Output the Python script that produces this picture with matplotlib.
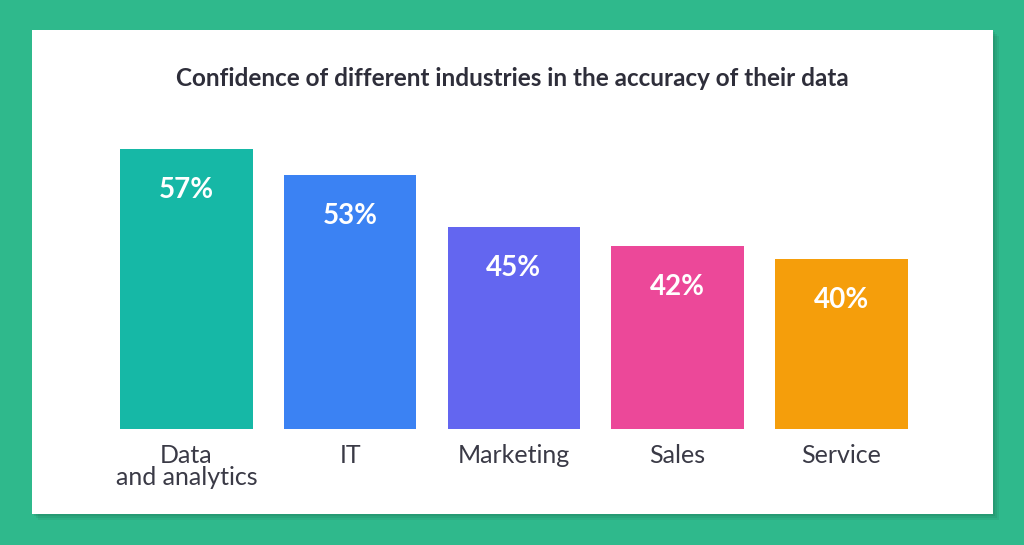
import matplotlib.pyplot as plt
from matplotlib.patches import Rectangle

# chart data
industries = ['Data\nand analytics', 'IT', 'Marketing', 'Sales', 'Service']
confidence = [57, 53, 45, 42, 40]
bar_colors = ['#16B8A6', '#3B82F3', '#6366F0', '#EC4899', '#F59E0B']

plt.rcParams['font.family'] = ['Lato', 'DejaVu Sans']

fig = plt.figure(figsize=(10.24, 5.45), dpi=100)
fig.patch.set_facecolor('#2FB98C')

# white card with a soft shadow
for off, alpha in [(6, 0.10), (4, 0.12), (2, 0.15)]:
    fig.patches.append(Rectangle((32 / 1024 + off / 1024, 31 / 545 - off / 545), 961 / 1024, 484 / 545,
                                 transform=fig.transFigure, facecolor='#1a5e45', alpha=alpha,
                                 edgecolor='none', zorder=0))
fig.patches.append(Rectangle((32 / 1024, 31 / 545), 961 / 1024, 484 / 545,
                             transform=fig.transFigure, facecolor='white', edgecolor='none', zorder=1))

ax = fig.add_axes([104.6 / 1024, 1 - 429 / 545, 818.5 / 1024, 299 / 545])
ax.set_facecolor('none')
ax.set_zorder(2)

x = range(len(industries))
bars = ax.bar(x, confidence, width=0.81, color=bar_colors, zorder=3)
ax.set_xlim(-0.5, len(industries) - 0.5)
ax.set_ylim(13.8, 60)

for i, v in enumerate(confidence):
    ax.text(i, v - 6.3, f'{v}%', ha='center', va='center', color='white',
            fontsize=20, fontweight='bold', zorder=4)

ax.set_xticks(list(x))
ax.set_xticklabels(industries, fontsize=18, color='#3a3a46', linespacing=0.95, va='top')
ax.tick_params(axis='x', length=0, pad=11)
ax.set_yticks([])
for s in ax.spines.values():
    s.set_visible(False)

fig.text(512 / 1024, 1 - 78 / 545, 'Confidence of different industries in the accuracy of their data',
         ha='center', va='center', fontsize=17.5, fontweight='bold', color='#2E2E3A', zorder=5)

fig.savefig('out.png', dpi=100, facecolor=fig.get_facecolor())
